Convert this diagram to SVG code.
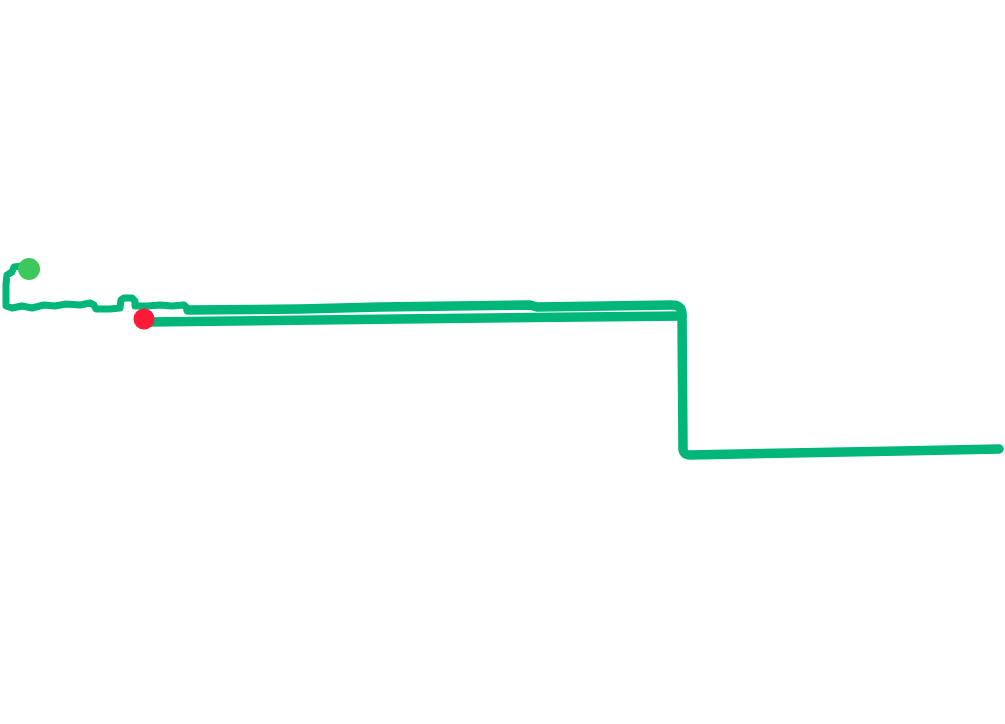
<svg xmlns="http://www.w3.org/2000/svg" width="1005" height="724" viewBox="0 0 1005 724">
<style>
.trk{fill:none;stroke:#00b779;stroke-linecap:round;stroke-linejoin:round}
.thin{stroke-width:7}
.thick{stroke-width:9.5}
</style>
<rect width="1005" height="724" fill="#ffffff"/>
<g id="track">
<path class="trk thin" d="M22,266 L14,267 L12,272 L7,275 L6,284 L6,306 L12,308 L22,306 L32,308 L44,305 L55,306 L66,304 L80,305 L90,303 L94,305 L96,309 L110,309 L120,308 L121,300 L124,298 L132,298 L135,301 L135,306 L148,306 L160,305 L172,306 L184,305 L188,309"/>
<path class="trk thick" d="M188,310 L300,309 L380,307 L530,305 L537,307 L672,305 Q682,305 682,314 L683,448 Q683,455 690,455 L790,453 L900,451 L999,449"/>
<path class="trk thick" d="M682,316 L400,319 L146,322"/>
</g>
<g id="start">
<circle cx="29" cy="269" r="11" fill="#3cc85a"/>
</g>
<g id="end">
<circle cx="144" cy="319" r="10.5" fill="#ff1a3a"/>
</g>
</svg>
